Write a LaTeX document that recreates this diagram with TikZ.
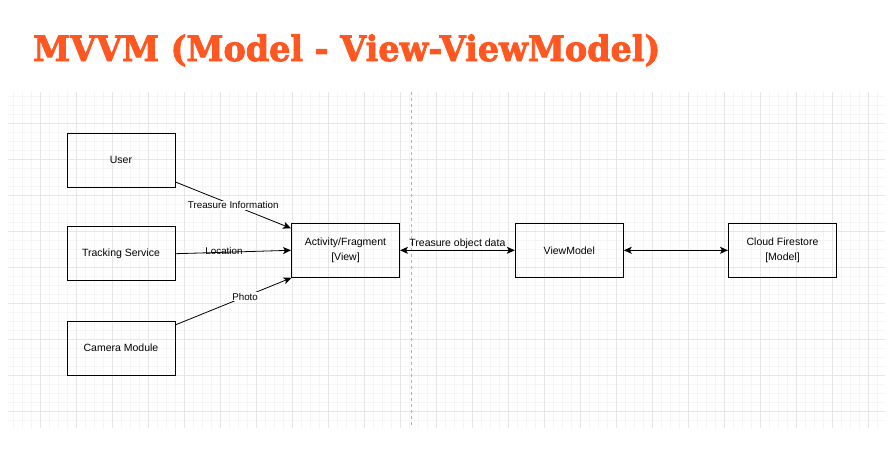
\documentclass[tikz,border=0pt]{standalone}
\usepackage{fontspec}
\setmainfont{Liberation Sans}
\newfontfamily\titlefont{DejaVu Serif}[BoldFeatures={FakeBold=2.5}]
\usepackage{tikz}
\usetikzlibrary{arrows,arrows.meta}

\definecolor{mvvmorange}{HTML}{FF5722}
\definecolor{gridminor}{HTML}{F5F5F5}
\definecolor{gridmajor}{HTML}{E6E6E6}

\begin{document}
\begin{tikzpicture}[x=1pt,y=-1pt, every node/.style={font=\fontsize{10.5}{15}\selectfont},
  box/.style={draw, line width=1pt, minimum width=108pt, minimum height=54pt, align=center, inner sep=2pt},
  link/.style={line width=0.8pt,-{Stealth[length=8pt,width=7pt,inset=2pt]}},
  both/.style={line width=0.8pt,{Stealth[length=8pt,width=7pt,inset=2pt]}-{Stealth[length=8pt,width=7pt,inset=2pt]}},
  lbl/.style={fill=white, inner sep=1pt, font=\fontsize{9.8}{11}\selectfont}]
\useasboundingbox (0,0) rectangle (895,469);

% grid
\foreach \gx in {13.7,22.7,...,885} \draw[gridminor,line width=0.5pt] (\gx,92) -- (\gx,428);
\foreach \gy in {96,105,...,428} \draw[gridminor,line width=0.5pt] (8,\gy) -- (885,\gy);
\foreach \gx in {40.7,76.7,...,885} \draw[gridmajor,line width=0.5pt] (\gx,92) -- (\gx,428);
\foreach \gy in {123,159,...,428} \draw[gridmajor,line width=0.5pt] (8,\gy) -- (885,\gy);
\draw[gray!60,dashed,line width=0.5pt] (411.7,92) -- (411.7,428);

\node[anchor=base west, inner sep=0pt, xscale=0.955, text=mvvmorange, font=\titlefont\bfseries\fontsize{35}{40}\selectfont] (title) at (33,61) {MVVM (Model - View-ViewModel)};

\node[box] (user) at (121,160) {User};
\node[box] (track) at (121,253.7) {Tracking Service};
\node[box] (camera) at (121,348) {Camera Module};
\node[box] (view) at (345.5,250.3) {Activity/Fragment\\{}[View]};
\node[box] (vm) at (569.3,250.3) {ViewModel};
\node[box] (cloud) at (782.5,250.3) {Cloud Firestore\\{}[Model]};

\draw[link] (user.-22) -- node[lbl,midway] {Treasure Information} (view.158);
\draw[link] (track.east) -- node[pos=0.42,above=-4pt,inner sep=1pt,font=\fontsize{9.8}{11}\selectfont] {Location} (view.west);
\draw[link] (camera.23) -- node[lbl,pos=0.6] {Photo} (view.-153);
\draw[both] (view.east) -- node[above,inner sep=1pt,font=\fontsize{10.5}{11}\selectfont] {Treasure object data} (vm.west);
\draw[both] (vm.east) -- (cloud.west);
\end{tikzpicture}
\end{document}
